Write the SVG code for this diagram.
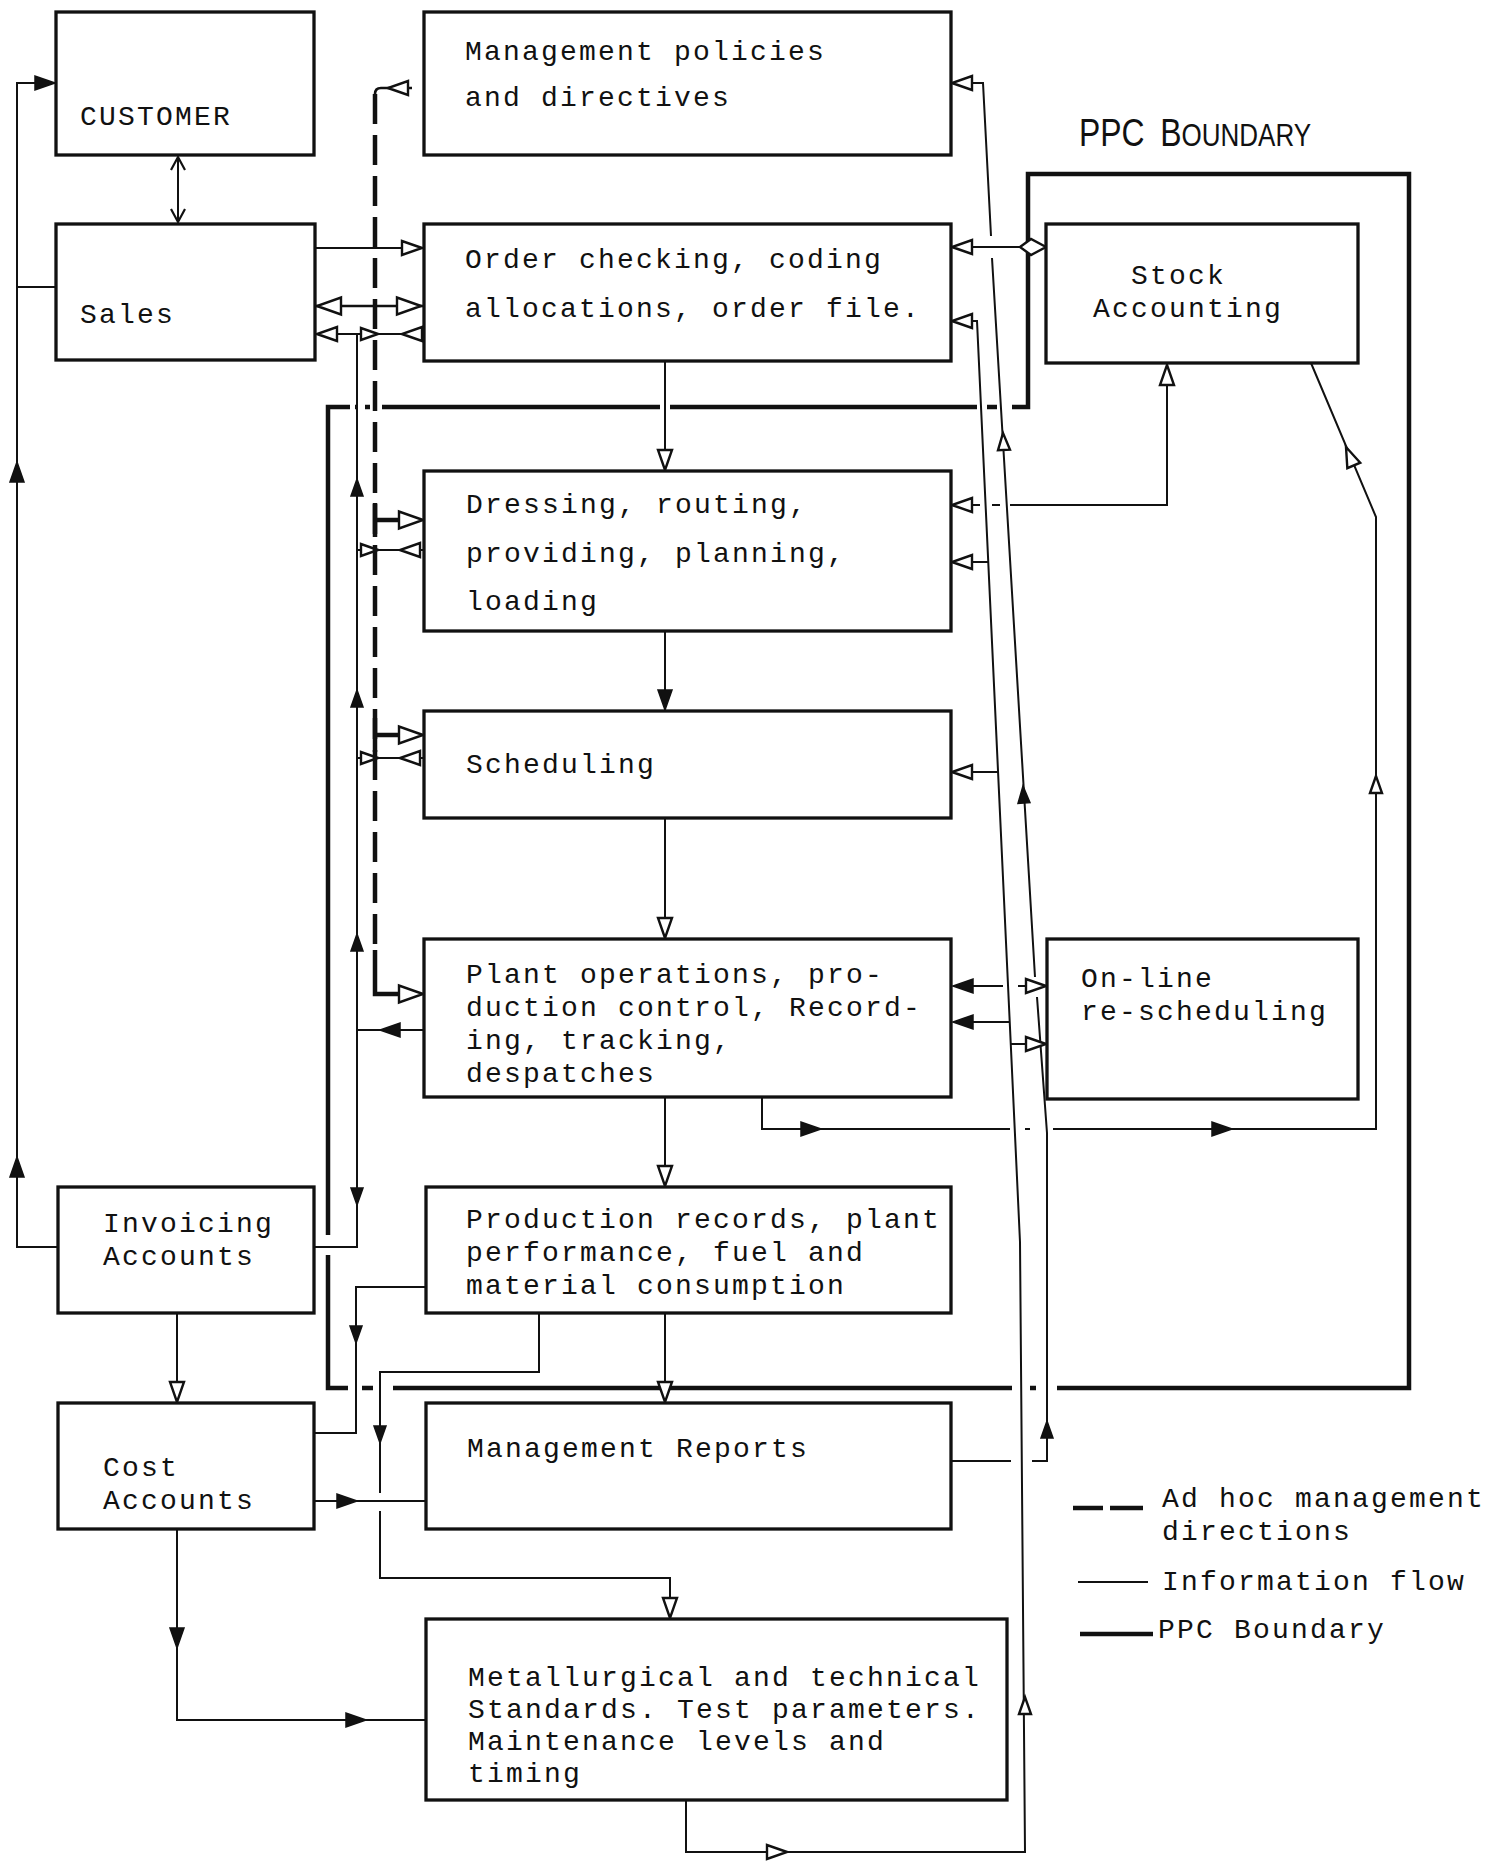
<svg xmlns="http://www.w3.org/2000/svg" xmlns:xlink="http://www.w3.org/1999/xlink" width="1498" height="1864" viewBox="0 0 1498 1864">
<style>
.box{fill:#fff;stroke:#111;stroke-width:3.3}
.t{font-family:"Liberation Mono","Courier New",monospace;font-size:28px;letter-spacing:2.2px;fill:#111}
.l{fill:none;stroke:#111;stroke-width:2}
.lm{fill:none;stroke:#111;stroke-width:2.6}
.b{fill:none;stroke:#111;stroke-width:4.5}
.d{fill:none;stroke:#111;stroke-width:4.5;stroke-dasharray:30 11}
.ds{fill:none;stroke:#111;stroke-width:4.5}
.o{fill:#fff;stroke:#111;stroke-width:2.4;stroke-linejoin:miter}
.f{fill:#111;stroke:#111;stroke-width:1.5}
.c{fill:none;stroke:#111;stroke-width:2.2}
</style>
<defs>
<path id="a" d="M0,0 L-20,-7 L-20,7 Z"/>
<path id="as" d="M0,0 L-17,-6 L-17,6 Z"/>
<path id="al" d="M0,0 L-24,-8.5 L-24,8.5 Z"/>
</defs>
<rect width="1498" height="1864" fill="#fff"/>

<g id="ppc-boundary">
<path class="b" d="M350,407 H328 V1235"/>
<path class="b" d="M355,407 H358 M365,407 H370 M382,407 H660 M670,407 H977 M987,407 H997"/>
<path class="b" d="M1012,407 H1028 V174 H1409 V1388 H1057"/>
<path class="b" d="M1030,1388 H1036 M393,1388 H1012 M362,1388 H373"/>
<path class="b" d="M348,1388 H328 V1255"/>
<text font-family="'Liberation Sans',Arial,sans-serif" fill="#111" transform="translate(1079,146) scale(0.84,1)"><tspan font-size="38">PPC </tspan><tspan font-size="38" dx="8">B</tspan><tspan font-size="31">OUNDARY</tspan></text>
</g>

<g id="connectors">
<!-- customer <-> sales -->
<path class="l" d="M178,157 V222"/>
<path class="c" d="M171,170 L178,157 L185,170 M171,209 L178,222 L185,209"/>
<!-- left loop -->
<path class="l" d="M56,83 H17 V1247 H58 M17,287 H56"/>
<use href="#a" class="f" transform="translate(55,83)"/>
<use href="#a" class="f" transform="translate(17,462) rotate(-90)"/>
<use href="#a" class="f" transform="translate(17,1157) rotate(-90)"/>
<!-- sales / order -->
<path class="l" d="M315,248 H423"/>
<use href="#a" class="o" transform="translate(422,248)"/>
<path class="lm" d="M315,306 H423"/>
<use href="#al" class="o" transform="translate(317,306) rotate(180)"/>
<use href="#al" class="o" transform="translate(421,306)"/>
<path class="l" d="M315,334 H423"/>
<use href="#a" class="o" transform="translate(317,334) rotate(180)"/>
<use href="#as" class="o" transform="translate(378,334)"/>
<use href="#a" class="o" transform="translate(402,334) rotate(180)"/>
<!-- thin vertical x=357 -->
<path class="l" d="M357,334 V1247 H314"/>
<use href="#as" class="f" transform="translate(357,479) rotate(-90)"/>
<use href="#as" class="f" transform="translate(357,690) rotate(-90)"/>
<use href="#as" class="f" transform="translate(357,934) rotate(-90)"/>
<use href="#as" class="f" transform="translate(357,1205) rotate(90)"/>
<path class="l" d="M357,550 H423"/>
<use href="#as" class="o" transform="translate(378,550)"/>
<use href="#a" class="o" transform="translate(400,550) rotate(180)"/>
<path class="l" d="M357,758 H423"/>
<use href="#as" class="o" transform="translate(378,758)"/>
<use href="#a" class="o" transform="translate(400,758) rotate(180)"/>
<path class="l" d="M423,1030 H357"/>
<use href="#a" class="f" transform="translate(380,1030) rotate(180)"/>
<!-- ad hoc dashed -->
<path class="d" d="M375,94 V950"/>
<path class="lm" d="M412,88 H381 Q375,88 375,94"/>
<use href="#a" class="o" transform="translate(388,88) rotate(180)"/>
<path class="ds" d="M375,950 V994 H410"/>
<use href="#al" class="o" transform="translate(423,994)"/>
<path class="ds" d="M375,503 V537 M375,520 H405"/>
<use href="#al" class="o" transform="translate(423,520)"/>
<path class="ds" d="M375,718 V752 M375,735 H405"/>
<use href="#al" class="o" transform="translate(423,735)"/>
<!-- central chain -->
<path class="l" d="M665,361 V470 M665,631 V710 M665,818 V938 M665,1097 V1186 M665,1313 V1402"/>
<use href="#a" class="o" transform="translate(665,470) rotate(90)"/>
<use href="#a" class="f" transform="translate(665,710) rotate(90)"/>
<use href="#a" class="o" transform="translate(665,938) rotate(90)"/>
<use href="#a" class="o" transform="translate(665,1186) rotate(90)"/>
<use href="#a" class="o" transform="translate(665,1402) rotate(90)"/>
<!-- line 1 : management reports to management policies -->
<path class="l" d="M951,1461 H1011 M1032,1461 H1047 V1133 L1037,997 M1035,977 L992,258 M991,236 L983,83 H970"/>
<use href="#a" class="o" transform="translate(952,83) rotate(180)"/>
<use href="#as" class="o" transform="translate(1003,433) rotate(-93.3)"/>
<use href="#as" class="f" transform="translate(1023,786) rotate(-93.3)"/>
<use href="#as" class="f" transform="translate(1047,1421) rotate(-90)"/>
<!-- line 2 : metallurgical standards upward -->
<path class="l" d="M970,321 H977 L1020,1242 L1025,1852 H686 V1800"/>
<use href="#a" class="o" transform="translate(952,321) rotate(180)"/>
<use href="#as" class="o" transform="translate(1025,1697) rotate(-90)"/>
<use href="#a" class="o" transform="translate(787,1852)"/>
<path class="l" d="M988,562 H970 M998,772 H970 M1010,1022 H970 M1011,1044 H1030"/>
<use href="#a" class="o" transform="translate(952,562) rotate(180)"/>
<use href="#a" class="o" transform="translate(952,772) rotate(180)"/>
<use href="#a" class="f" transform="translate(953,1022) rotate(180)"/>
<use href="#a" class="o" transform="translate(1046,1044)"/>
<!-- plant ops <-> on-line -->
<path class="l" d="M970,986 H1003 M1018,986 H1030"/>
<use href="#a" class="f" transform="translate(953,986) rotate(180)"/>
<use href="#a" class="o" transform="translate(1046,986)"/>
<!-- stock accounting links -->
<path class="l" d="M970,247 H1020"/>
<use href="#a" class="o" transform="translate(952,247) rotate(180)"/>
<polygon class="o" points="1020,247 1031,239 1046,247 1031,255"/>
<path class="l" d="M1167,383 V505 H1010 M1000,505 H992 M980,505 H970"/>
<use href="#a" class="o" transform="translate(952,505) rotate(180)"/>
<use href="#a" class="o" transform="translate(1167,365) rotate(-90)"/>
<path class="l" d="M1311,363 L1376,517 V1129 H1053 M1030,1129 H1025 M1010,1129 H762 V1097"/>
<use href="#a" class="o" transform="translate(1346,447) rotate(-112.9)"/>
<use href="#as" class="o" transform="translate(1376,776) rotate(-90)"/>
<use href="#a" class="f" transform="translate(821,1129)"/>
<use href="#a" class="f" transform="translate(1232,1129)"/>
<!-- accounts area -->
<path class="l" d="M177,1313 V1402"/>
<use href="#a" class="o" transform="translate(177,1402) rotate(90)"/>
<path class="l" d="M177,1529 V1720 H426"/>
<use href="#a" class="f" transform="translate(177,1648) rotate(90)"/>
<use href="#a" class="f" transform="translate(366,1720)"/>
<path class="l" d="M314,1501 H426"/>
<use href="#a" class="f" transform="translate(357,1501)"/>
<path class="l" d="M426,1287 H356 V1433 H314"/>
<use href="#as" class="f" transform="translate(356,1343) rotate(90)"/>
<path class="l" d="M539,1313 V1372 H380 V1493 M380,1511 V1578 H670 V1618"/>
<use href="#as" class="f" transform="translate(380,1443) rotate(90)"/>
<use href="#a" class="o" transform="translate(670,1618) rotate(90)"/>
</g>

<g id="customer"><rect class="box" x="56" y="12" width="258" height="143"/><text class="t" x="80" y="125">CUSTOMER</text></g>
<g id="management-policies"><rect class="box" x="424" y="12" width="527" height="143"/><text class="t" x="465" y="60">Management policies</text><text class="t" x="465" y="106">and directives</text></g>
<g id="sales"><rect class="box" x="56" y="224" width="259" height="136"/><text class="t" x="80" y="323">Sales</text></g>
<g id="order-checking"><rect class="box" x="424" y="224" width="527" height="137"/><text class="t" x="465" y="268">Order checking, coding</text><text class="t" x="465" y="317">allocations, order file.</text></g>
<g id="stock-accounting"><rect class="box" x="1046" y="224" width="312" height="139"/><text class="t" x="1131" y="284">Stock</text><text class="t" x="1093" y="317">Accounting</text></g>
<g id="dressing"><rect class="box" x="424" y="471" width="527" height="160"/><text class="t" x="466" y="513">Dressing, routing,</text><text class="t" x="466" y="562">providing, planning,</text><text class="t" x="466" y="610">loading</text></g>
<g id="scheduling"><rect class="box" x="424" y="711" width="527" height="107"/><text class="t" x="466" y="773">Scheduling</text></g>
<g id="plant-operations"><rect class="box" x="424" y="939" width="527" height="158"/><text class="t" x="466" y="983">Plant operations, pro-</text><text class="t" x="466" y="1016">duction control, Record-</text><text class="t" x="466" y="1049">ing, tracking,</text><text class="t" x="466" y="1082">despatches</text></g>
<g id="online-rescheduling"><rect class="box" x="1047" y="939" width="311" height="160"/><text class="t" x="1081" y="987">On-line</text><text class="t" x="1081" y="1020">re-scheduling</text></g>
<g id="invoicing-accounts"><rect class="box" x="58" y="1187" width="256" height="126"/><text class="t" x="103" y="1232">Invoicing</text><text class="t" x="103" y="1265">Accounts</text></g>
<g id="production-records"><rect class="box" x="426" y="1187" width="525" height="126"/><text class="t" x="466" y="1228">Production records, plant</text><text class="t" x="466" y="1261">performance, fuel and</text><text class="t" x="466" y="1294">material consumption</text></g>
<g id="cost-accounts"><rect class="box" x="58" y="1403" width="256" height="126"/><text class="t" x="103" y="1476">Cost</text><text class="t" x="103" y="1509">Accounts</text></g>
<g id="management-reports"><rect class="box" x="426" y="1403" width="525" height="126"/><text class="t" x="467" y="1457">Management Reports</text></g>
<g id="metallurgical-standards"><rect class="box" x="426" y="1619" width="581" height="181"/><text class="t" x="468" y="1686">Metallurgical and technical</text><text class="t" x="468" y="1718">Standards. Test parameters.</text><text class="t" x="468" y="1750">Maintenance levels and</text><text class="t" x="468" y="1782">timing</text></g>

<g id="legend">
<path class="ds" d="M1073,1508 H1103 M1110,1508 H1143"/>
<path class="l" d="M1078,1582 H1148"/>
<path class="ds" d="M1080,1634 H1153"/>
<text class="t" x="1162" y="1507">Ad hoc management</text>
<text class="t" x="1162" y="1540">directions</text>
<text class="t" x="1162" y="1590">Information flow</text>
<text class="t" x="1158" y="1638">PPC Boundary</text>
</g>
</svg>
